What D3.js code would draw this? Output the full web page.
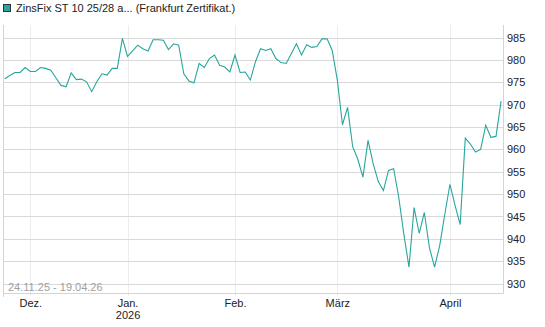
<!DOCTYPE html>
<html>
<head>
<meta charset="utf-8">
<script src="https://cdn.jsdelivr.net/npm/d3@7"></script>
<style>
  body { margin: 0; background: #fff; }
  text { font-family: "Liberation Sans", Arial, sans-serif; }
</style>
</head>
<body>
<div class="container"></div>
<script>
const size = { width: 545, height: 327 };
const plot = { left: 3, right: 503, top: 25, bottom: 293 };

// trading days, 24.11.25 - 17.04.26
const dates = [
  "2025-11-24","2025-11-25","2025-11-26","2025-11-27","2025-11-28",
  "2025-12-01","2025-12-02","2025-12-03","2025-12-04","2025-12-05","2025-12-08","2025-12-09","2025-12-10",
  "2025-12-11","2025-12-12","2025-12-15","2025-12-16","2025-12-17","2025-12-18","2025-12-19","2025-12-22",
  "2025-12-23","2025-12-29","2025-12-30",
  "2026-01-02","2026-01-05","2026-01-06","2026-01-07","2026-01-08","2026-01-09","2026-01-12","2026-01-13",
  "2026-01-14","2026-01-15","2026-01-16","2026-01-19","2026-01-20","2026-01-21","2026-01-22","2026-01-23",
  "2026-01-26","2026-01-27","2026-01-28","2026-01-29","2026-01-30",
  "2026-02-02","2026-02-03","2026-02-04","2026-02-05","2026-02-06","2026-02-09","2026-02-10","2026-02-11",
  "2026-02-12","2026-02-13","2026-02-16","2026-02-17","2026-02-18","2026-02-19","2026-02-20","2026-02-23",
  "2026-02-24","2026-02-25","2026-02-26","2026-02-27",
  "2026-03-02","2026-03-03","2026-03-04","2026-03-05","2026-03-06","2026-03-09","2026-03-10","2026-03-11",
  "2026-03-12","2026-03-13","2026-03-16","2026-03-17","2026-03-18","2026-03-19","2026-03-20","2026-03-23",
  "2026-03-24","2026-03-25","2026-03-26","2026-03-27","2026-03-30","2026-03-31",
  "2026-04-01","2026-04-02","2026-04-07","2026-04-08","2026-04-09","2026-04-10","2026-04-13","2026-04-14",
  "2026-04-15","2026-04-16","2026-04-17"
];

const prices = [
  975.8, 976.5, 977.2, 977.2, 978.3,
  977.4, 977.4, 978.3, 978.1, 977.7, 976.0, 974.3, 974.0, 977.1, 975.6, 975.7, 975.1, 972.9, 975.1, 976.9,
  976.6, 978.1, 978.1, 984.8,
  980.8, 982.0, 983.3, 982.5, 982.0, 984.5, 984.5, 984.4, 982.3, 983.6, 983.3, 976.9, 975.3, 974.9, 979.2,
  978.3, 980.3, 981.1, 978.8, 978.4, 977.3,
  981.1, 977.2, 977.3, 975.5, 979.6, 982.5, 982.1, 982.5, 980.3, 979.4, 979.2, 981.4, 983.6, 981.1, 983.4,
  982.8, 983.0, 984.7, 984.7, 982.1,
  975.5, 965.5, 969.4, 960.6, 957.8, 953.8, 962.0, 956.8, 952.8, 950.8, 955.3, 955.7, 949.3, 941.0, 933.7,
  947.0, 941.2, 945.9, 938.0, 933.7, 938.5, 945.5,
  952.2, 947.5, 943.2, 962.5, 961.2, 959.4, 960.0, 965.4, 962.7, 962.9, 970.8
];

const monthTicks = ["2025-12-01", "2026-01-02", "2026-02-02", "2026-03-02", "2026-04-01"];
const monthLabels = ["Dez.", "Jan.", "Feb.", "März", "April"];
const yearLabels = ["", "2026", "", "", ""];
const yTicks = [930, 935, 940, 945, 950, 955, 960, 965, 970, 975, 980, 985];

const titleText = "ZinsFix ST 10 25/28 a... (Frankfurt Zertifikat.)";
const rangeText = "24.11.25 - 19.04.26";
const lineColor = "#26a69e";

const svg = d3.select(".container")
  .append("svg")
  .attr("width", size.width)
  .attr("height", size.height);

const x = d3.scalePoint()
  .domain(dates)
  .range([4.7, 501.1]);

const y = d3.scaleLinear()
  .domain([927.9, 987.8])
  .range([plot.bottom, plot.top]);

// vertical month grid
svg.append("g")
  .selectAll("line")
  .data(monthTicks)
  .join("line")
    .attr("x1", d => Math.round(x(d)) + 0.5)
    .attr("x2", d => Math.round(x(d)) + 0.5)
    .attr("y1", plot.top)
    .attr("y2", plot.bottom + 3)
    .attr("stroke", "#ececec");

// horizontal grid
svg.append("g")
  .selectAll("line")
  .data(yTicks)
  .join("line")
    .attr("x1", plot.left)
    .attr("x2", plot.right)
    .attr("y1", d => Math.round(y(d)) + 0.5)
    .attr("y2", d => Math.round(y(d)) + 0.5)
    .attr("stroke", "#d9d9d9");

// frame (no top)
svg.append("path")
  .attr("d", `M${plot.left + 0.5},${plot.top}V${plot.bottom + 0.5}H${plot.right + 0.5}V${plot.top}`)
  .attr("fill", "none")
  .attr("stroke", "#d4d4d4");
svg.append("line")
  .attr("x1", plot.left + 0.5).attr("x2", plot.left + 0.5)
  .attr("y1", plot.bottom).attr("y2", plot.bottom + 4)
  .attr("stroke", "#d4d4d4");

// date range note
svg.append("text")
  .attr("x", 8)
  .attr("y", 291)
  .attr("font-size", 11)
  .attr("fill", "#a0a0a0")
  .text(rangeText);

// x labels
const xAxis = svg.append("g")
  .attr("transform", `translate(0,${plot.bottom})`)
  .call(d3.axisBottom(x).tickValues(monthTicks).tickSize(0).tickPadding(0).tickFormat(""));
xAxis.select(".domain").remove();
xAxis.selectAll(".tick text").remove();
xAxis.selectAll(".tick").each(function (d, i) {
  const t = d3.select(this).append("text")
    .attr("text-anchor", "middle")
    .attr("font-size", 11)
    .attr("fill", "#222");
  t.append("tspan").attr("x", 0).attr("y", 14).text(monthLabels[i]);
  if (yearLabels[i]) t.append("tspan").attr("x", 0).attr("y", 26).text(yearLabels[i]);
});

// y labels
const yAxis = svg.append("g")
  .attr("transform", `translate(${plot.right},0)`)
  .call(d3.axisRight(y).tickValues(yTicks).tickSize(0).tickPadding(4));
yAxis.select(".domain").remove();
yAxis.selectAll("text")
  .attr("font-size", 11)
  .attr("font-family", "Liberation Sans, Arial, sans-serif")
  .attr("fill", "#222");

// price line
const line = d3.line()
  .x((d, i) => x(dates[i]))
  .y(d => y(d));

svg.append("path")
  .datum(prices)
  .attr("d", line)
  .attr("fill", "none")
  .attr("stroke", lineColor)
  .attr("stroke-width", 1.1);

// legend / title
svg.append("rect")
  .attr("x", 3.5).attr("y", 4.5)
  .attr("width", 7).attr("height", 7)
  .attr("fill", lineColor)
  .attr("stroke", "#333");
svg.append("text")
  .attr("x", 16)
  .attr("y", 12)
  .attr("font-size", 11)
  .attr("fill", "#222")
  .text(titleText);
</script>
</body>
</html>
